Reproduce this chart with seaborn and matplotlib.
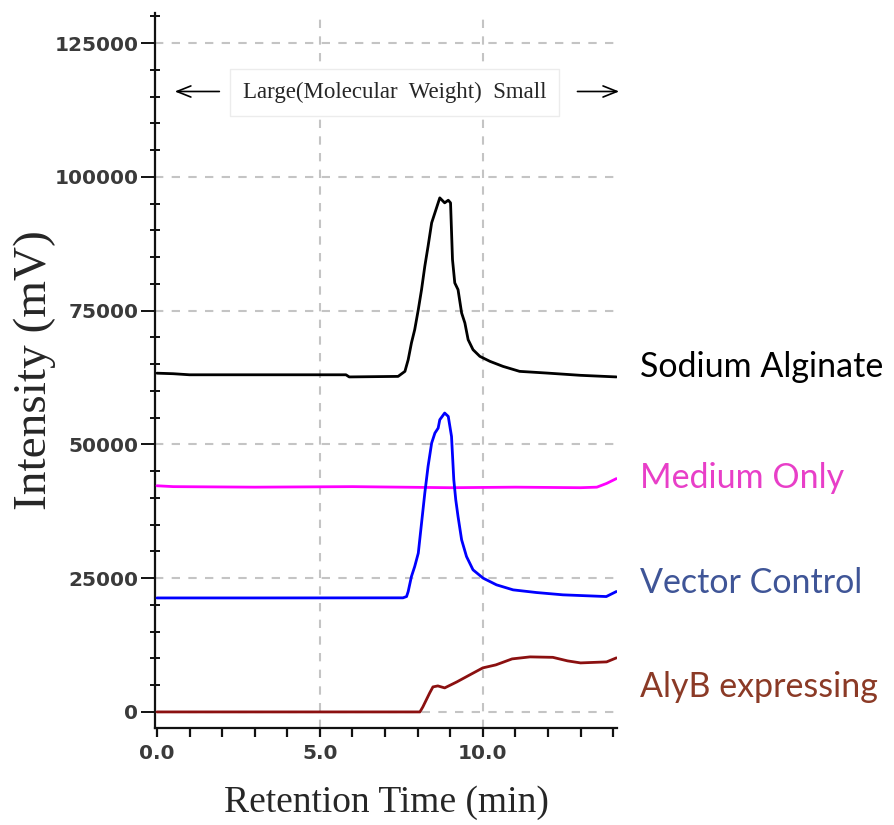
import matplotlib
matplotlib.use("Agg")
import matplotlib.pyplot as plt
from matplotlib.ticker import MultipleLocator, FixedLocator
import numpy as np
import pandas as pd
import seaborn as sns

# Chromatogram traces (retention time in min, intensity in mV)
alginate_time = [0.0, 0.5, 1.0, 5.8, 5.9, 7.40, 7.61, 7.71, 7.81, 7.91, 8.02, 8.12, 8.22,
                 8.32, 8.43, 8.53, 8.63, 8.68, 8.83, 8.94, 9.01, 9.07, 9.14, 9.24, 9.35,
                 9.45, 9.55, 9.70, 9.91, 10.22, 10.62, 11.13, 11.95, 13.0, 14.1]
alginate_mv = [63300, 63200, 63000, 63000, 62600, 62700, 63640, 65820, 68950, 71430, 75170,
               78910, 83270, 87010, 91390, 93260, 95130, 96060, 95130, 95620, 95130, 84520,
               80170, 78910, 74550, 72680, 69560, 67690, 66440, 65510, 64570, 63640, 63330,
               62900, 62600]

medium_time = [0.0, 0.5, 3.0, 6.0, 9.0, 11.0, 13.0, 13.5, 13.8, 14.1]
medium_mv = [42260, 42100, 42000, 42100, 41900, 42000, 41900, 42000, 42700, 43600]

vector_time = [0.0, 3.0, 7.55, 7.66, 7.71, 7.81, 7.91, 8.02, 8.12, 8.22, 8.32, 8.43, 8.53,
               8.63, 8.68, 8.83, 8.94, 9.04, 9.11, 9.17, 9.24, 9.35, 9.50, 9.70, 10.01,
               10.42, 10.93, 11.65, 12.46, 13.79, 14.1]
vector_mv = [21300, 21300, 21320, 21560, 22500, 25310, 27170, 29670, 35280, 40890, 45880,
             50240, 52110, 53040, 54600, 55850, 55220, 51480, 43380, 39640, 36520, 32160,
             29040, 26550, 25000, 23750, 22810, 22310, 21880, 21560, 22500]

alyb_time = [0.0, 4.0, 8.07, 8.16, 8.37, 8.47, 8.62, 8.83, 9.2, 9.6, 10.0, 10.4, 10.9,
             11.45, 12.15, 12.6, 13.0, 13.8, 14.1]
alyb_mv = [0, 0, 0, 935, 3550, 4675, 4860, 4490, 5600, 6920, 8230, 8790, 9910,
           10285, 10200, 9540, 9160, 9350, 10100]

sample_names = ["Sodium Alginate", "Medium Only", "Vector Control", "AlyB expressing"]
line_colors = ["#000000", "#ff00ff", "#0000ff", "#8b1010"]
label_colors = ["#000000", "#e83fc8", "#3f5597", "#8b3a26"]
label_levels = [64500, 43760, 24120, 4675]

x_major = [0, 5, 10]
x_major_labels = ["0.0", "5.0", "10.0"]
y_major = [0, 25000, 50000, 75000, 100000, 125000]
y_major_labels = ["0", "25000", "50000", "75000", "100000", "125000"]

traces = pd.concat([
    pd.DataFrame({"time": t, "mv": v, "sample": name})
    for t, v, name in zip([alginate_time, medium_time, vector_time, alyb_time],
                          [alginate_mv, medium_mv, vector_mv, alyb_mv], sample_names)
], ignore_index=True)

sns.set_style("white")
plt.rcParams["font.family"] = ["DejaVu Sans"]

fig = plt.figure(figsize=(8.94, 8.25), dpi=100)
ax = fig.add_axes([0.1734, 0.1176, 0.5168, 0.8666])

sns.lineplot(data=traces, x="time", y="mv", hue="sample", hue_order=sample_names,
             palette=line_colors, estimator=None, sort=False, linewidth=2.0,
             legend=False, ax=ax, zorder=3)

ax.set_xlim(-0.06, 14.12)
ax.set_ylim(-3000, 130600)

# dashed grid at the major positions
grid_kw = dict(color="#c4c4c4", linestyle=(0, (4, 4)), linewidth=1.5, zorder=1)
for yv in y_major:
    ax.axhline(yv, **grid_kw)
for xv in [5, 10]:
    ax.axvline(xv, **grid_kw)

for side in ["top", "right"]:
    ax.spines[side].set_visible(False)
for side in ["left", "bottom"]:
    ax.spines[side].set_linewidth(1.6)
    ax.spines[side].set_color("#111111")

ax.xaxis.set_major_locator(FixedLocator(x_major))
ax.set_xticklabels(x_major_labels)
ax.xaxis.set_minor_locator(MultipleLocator(1))
ax.yaxis.set_major_locator(FixedLocator(y_major))
ax.set_yticklabels(y_major_labels)
ax.yaxis.set_minor_locator(MultipleLocator(5000))

ax.tick_params(axis="x", which="both", bottom=True, direction="out", length=6.5, width=1.6,
               color="#111111", pad=5)
ax.tick_params(axis="y", which="major", left=True, direction="out", length=10, width=1.4,
               color="#111111", pad=2)
ax.tick_params(axis="y", which="minor", left=True, direction="inout", length=7, width=1.4,
               color="#111111")
for lab in ax.get_xticklabels() + ax.get_yticklabels():
    lab.set_fontsize(14.5)
    lab.set_fontweight("bold")
    lab.set_color("#3a3a3a")

ax.set_xlabel("Retention Time (min)", fontsize=27, family="Liberation Serif", labelpad=16)
ax.set_ylabel("Intensity (mV)", fontsize=34, family="Liberation Serif", va="center")
ax.yaxis.set_label_coords(-0.26, 0.5)

# molecular weight direction banner
ax.text(7.3, 115750, "Large(Molecular  Weight)  Small", fontsize=16.5,
        family="Liberation Serif", ha="center", va="center", zorder=5,
        bbox=dict(boxstyle="square,pad=0.55", facecolor="white", edgecolor="#ececec",
                  linewidth=1.0))
ax.annotate("", xy=(0.46, 115940), xytext=(2.0, 115940),
            arrowprops=dict(arrowstyle="->,head_length=1.0,head_width=0.4", lw=1.2,
                            color="black"), annotation_clip=False)
ax.annotate("", xy=(14.27, 115940), xytext=(12.82, 115940),
            arrowprops=dict(arrowstyle="->,head_length=1.0,head_width=0.4", lw=1.2,
                            color="black"), annotation_clip=False)

for name, col, lvl in zip(sample_names, label_colors, label_levels):
    ax.text(14.82, lvl, name, color=col, fontsize=24.5, family=["Lato", "DejaVu Sans"],
            ha="left", va="center", clip_on=False)

fig.savefig("out.png", dpi=100, facecolor="white")
